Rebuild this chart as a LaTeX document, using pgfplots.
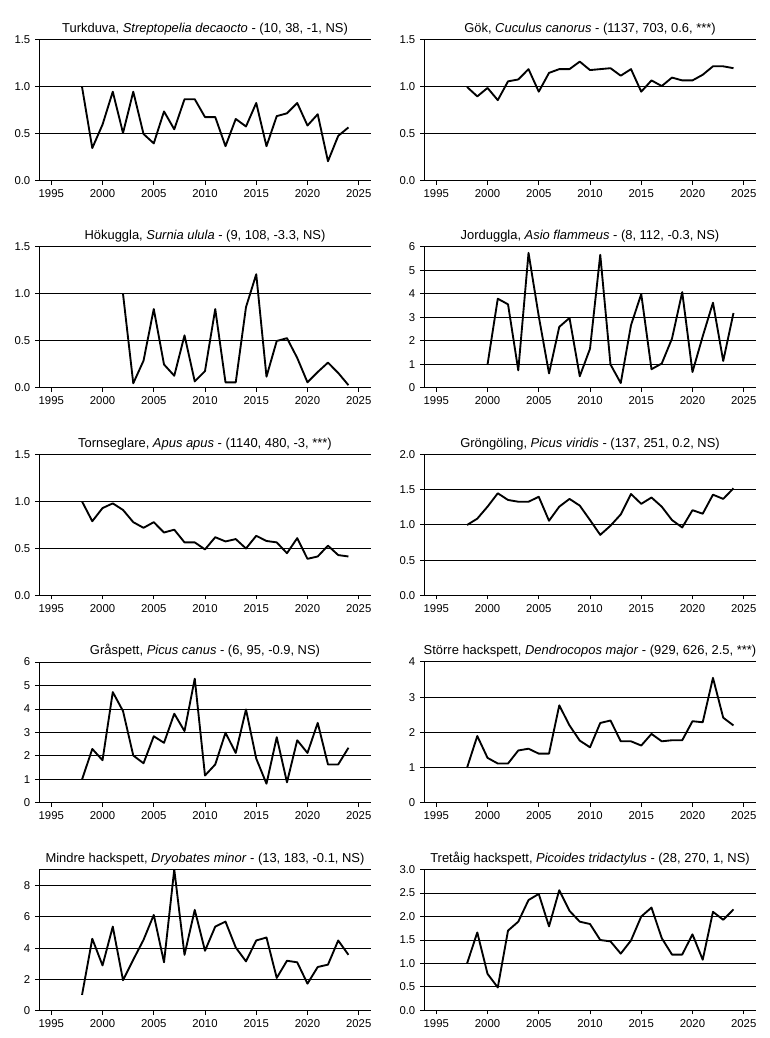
\documentclass[border=0pt]{standalone}
\usepackage{fontspec}
\setmainfont{Liberation Sans}
\usepackage{pgfplots}
\pgfplotsset{compat=1.18}

\pgfplotsset{
  birdpanel/.style={
    scale only axis, width=249pt, height=105.75pt, anchor=south west,
    xmin=1993.8, xmax=2026.2, ymin=0,
    axis x line*=bottom, axis y line*=left,
    axis line style={line width=0.75pt, -},
    xtick={1995,2000,...,2025},
    tick align=outside, major tick length=3pt,
    tick style={black, line width=0.75pt},
    ymajorgrids, major grid style={black, line width=0.75pt},
    /pgf/number format/assume math mode=true,
    x tick label style={/pgf/number format/1000 sep={}},
    tick label style={font=\fontsize{8.5}{10}\selectfont},
    title style={font=\fontsize{9.7}{11}\selectfont, yshift=-6pt},
  },
  trend/.style={black, no markers, line width=1.4pt, line join=round},
  dec/.style={y tick label style={/pgf/number format/.cd, fixed, fixed zerofill, precision=1}},
}
\newcommand{\topline}{\draw[line width=0.75pt] (rel axis cs:0,1) -- (rel axis cs:1,1);}

\begin{document}
\begin{tikzpicture}
\path[use as bounding box] (0,0) rectangle (576.75pt,778.5pt);

% row 1
\begin{axis}[birdpanel, at={(29.25pt,642.75pt)}, ymax=1.5, ytick={0,0.5,1,1.5}, dec,
  title={Turkduva, \textit{Streptopelia decaocto} - (10, 38, -1, NS)}]
\addplot[trend] coordinates {(1998,1.00) (1999,0.35) (2000,0.60) (2001,0.95) (2002,0.51)
 (2003,0.95) (2004,0.50) (2005,0.40) (2006,0.74) (2007,0.55) (2008,0.87) (2009,0.87)
 (2010,0.68) (2011,0.68) (2012,0.37) (2013,0.66) (2014,0.58) (2015,0.83) (2016,0.37)
 (2017,0.69) (2018,0.72) (2019,0.83) (2020,0.59) (2021,0.71) (2022,0.21) (2023,0.48)
 (2024,0.57)};
\topline
\end{axis}

\begin{axis}[birdpanel, at={(318pt,642.75pt)}, ymax=1.5, ytick={0,0.5,1,1.5}, dec,
  title={Gök, \textit{Cuculus canorus} - (1137, 703, 0.6, ***)}]
\addplot[trend] coordinates {(1998,1.00) (1999,0.90) (2000,0.99) (2001,0.86) (2002,1.06)
 (2003,1.08) (2004,1.19) (2005,0.95) (2006,1.15) (2007,1.19) (2008,1.19) (2009,1.27)
 (2010,1.18) (2011,1.19) (2012,1.20) (2013,1.12) (2014,1.19) (2015,0.95) (2016,1.07)
 (2017,1.01) (2018,1.10) (2019,1.07) (2020,1.07) (2021,1.13) (2022,1.22) (2023,1.22)
 (2024,1.20)};
\topline
\end{axis}

% row 2
\begin{axis}[birdpanel, at={(29.25pt,487.5pt)}, ymax=1.5, ytick={0,0.5,1,1.5}, dec,
  title={Hökuggla, \textit{Surnia ulula} - (9, 108, -3.3, NS)}]
\addplot[trend] coordinates {(2002,1.00) (2003,0.05) (2004,0.29) (2005,0.84) (2006,0.25)
 (2007,0.13) (2008,0.56) (2009,0.07) (2010,0.18) (2011,0.84) (2012,0.06) (2013,0.06)
 (2014,0.86) (2015,1.21) (2016,0.12) (2017,0.50) (2018,0.53) (2019,0.32) (2020,0.06)
 (2021,0.17) (2022,0.27) (2023,0.16) (2024,0.03)};
\topline
\end{axis}

\begin{axis}[birdpanel, at={(318pt,487.5pt)}, ymax=6, ytick={0,1,...,6},
  title={Jorduggla, \textit{Asio flammeus} - (8, 112, -0.3, NS)}]
\addplot[trend] coordinates {(2000,1.00) (2001,3.80) (2002,3.56) (2003,0.75) (2004,5.75)
 (2005,3.05) (2006,0.62) (2007,2.60) (2008,2.98) (2009,0.50) (2010,1.67) (2011,5.67)
 (2012,1.00) (2013,0.21) (2014,2.67) (2015,4.00) (2016,0.80) (2017,1.04) (2018,2.10)
 (2019,4.08) (2020,0.68) (2021,2.20) (2022,3.63) (2023,1.15) (2024,3.19)};
\topline
\end{axis}

% row 3
\begin{axis}[birdpanel, at={(29.25pt,331.875pt)}, ymax=1.5, ytick={0,0.5,1,1.5}, dec,
  title={Tornseglare, \textit{Apus apus} - (1140, 480, -3, ***)}]
\addplot[trend] coordinates {(1998,1.00) (1999,0.79) (2000,0.93) (2001,0.98) (2002,0.91)
 (2003,0.78) (2004,0.72) (2005,0.78) (2006,0.67) (2007,0.70) (2008,0.565) (2009,0.565)
 (2010,0.49) (2011,0.62) (2012,0.575) (2013,0.60) (2014,0.50) (2015,0.635) (2016,0.58)
 (2017,0.565) (2018,0.45) (2019,0.61) (2020,0.39) (2021,0.415) (2022,0.53) (2023,0.43)
 (2024,0.415)};
\topline
\end{axis}

\begin{axis}[birdpanel, at={(318pt,331.875pt)}, ymax=2, ytick={0,0.5,1,1.5,2}, dec,
  title={Gröngöling, \textit{Picus viridis} - (137, 251, 0.2, NS)}]
\addplot[trend] coordinates {(1998,1.00) (1999,1.09) (2000,1.26) (2001,1.45) (2002,1.355)
 (2003,1.33) (2004,1.33) (2005,1.40) (2006,1.06) (2007,1.26) (2008,1.37) (2009,1.275)
 (2010,1.07) (2011,0.86) (2012,0.99) (2013,1.15) (2014,1.44) (2015,1.30) (2016,1.39)
 (2017,1.26) (2018,1.07) (2019,0.965) (2020,1.21) (2021,1.16) (2022,1.43) (2023,1.37)
 (2024,1.52)};
\topline
\end{axis}

% row 4
\begin{axis}[birdpanel, at={(29.25pt,176.25pt)}, ymax=6, ytick={0,1,...,6},
  title={Gråspett, \textit{Picus canus} - (6, 95, -0.9, NS)}]
\addplot[trend] coordinates {(1998,1.00) (1999,2.30) (2000,1.82) (2001,4.72) (2002,3.91)
 (2003,2.02) (2004,1.69) (2005,2.84) (2006,2.56) (2007,3.80) (2008,3.06) (2009,5.29)
 (2010,1.17) (2011,1.64) (2012,2.99) (2013,2.13) (2014,3.98) (2015,1.89) (2016,0.82)
 (2017,2.80) (2018,0.88) (2019,2.67) (2020,2.13) (2021,3.41) (2022,1.64) (2023,1.64)
 (2024,2.35)};
\topline
\end{axis}

\begin{axis}[birdpanel, at={(318pt,176.25pt)}, ymax=4, ytick={0,1,...,4},
  title={Större hackspett, \textit{Dendrocopos major} - (929, 626, 2.5, ***)}]
\addplot[trend] coordinates {(1998,1.00) (1999,1.90) (2000,1.28) (2001,1.12) (2002,1.12)
 (2003,1.49) (2004,1.54) (2005,1.40) (2006,1.40) (2007,2.77) (2008,2.20) (2009,1.77)
 (2010,1.58) (2011,2.27) (2012,2.34) (2013,1.75) (2014,1.75) (2015,1.63) (2016,1.96)
 (2017,1.75) (2018,1.78) (2019,1.78) (2020,2.32) (2021,2.29) (2022,3.55) (2023,2.42)
 (2024,2.20)};
\topline
\end{axis}

% row 5
\begin{axis}[birdpanel, at={(29.25pt,20.625pt)}, ymax=9.04, ytick={0,2,...,8},
  title={Mindre hackspett, \textit{Dryobates minor} - (13, 183, -0.1, NS)}]
\addplot[trend] coordinates {(1998,1.00) (1999,4.60) (2000,2.89) (2001,5.38) (2002,1.94)
 (2003,3.26) (2004,4.53) (2005,6.13) (2006,3.09) (2007,9.04) (2008,3.57) (2009,6.45)
 (2010,3.83) (2011,5.38) (2012,5.70) (2013,4.04) (2014,3.15) (2015,4.49) (2016,4.68)
 (2017,2.09) (2018,3.19) (2019,3.09) (2020,1.72) (2021,2.79) (2022,2.94) (2023,4.49)
 (2024,3.57)};
\topline
\end{axis}

\begin{axis}[birdpanel, at={(318pt,20.625pt)}, ymax=3, ytick={0,0.5,...,3}, dec,
  title={Tretåig hackspett, \textit{Picoides tridactylus} - (28, 270, 1, NS)}]
\addplot[trend] coordinates {(1998,1.00) (1999,1.66) (2000,0.78) (2001,0.49) (2002,1.70)
 (2003,1.89) (2004,2.35) (2005,2.48) (2006,1.79) (2007,2.56) (2008,2.12) (2009,1.89)
 (2010,1.84) (2011,1.50) (2012,1.47) (2013,1.21) (2014,1.49) (2015,2.00) (2016,2.19)
 (2017,1.54) (2018,1.19) (2019,1.19) (2020,1.62) (2021,1.08) (2022,2.10) (2023,1.93)
 (2024,2.15)};
\topline
\end{axis}

\end{tikzpicture}
\end{document}
